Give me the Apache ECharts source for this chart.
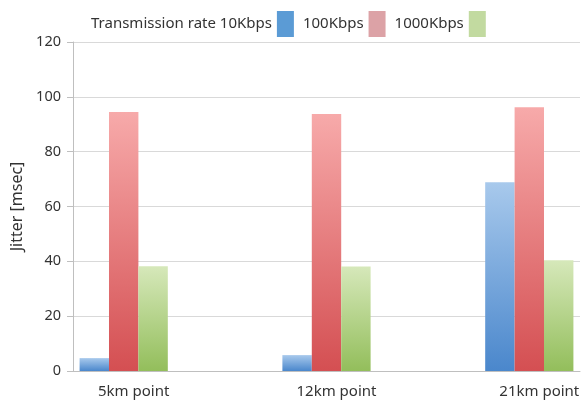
<!DOCTYPE html>
<html><head><meta charset="utf-8">
<script src="https://cdn.jsdelivr.net/npm/echarts@6/dist/echarts.min.js"></script>
<style>html,body{margin:0;padding:0;background:#fff}#c{width:587px;height:404px}</style>
</head><body><div id="c"></div>
<script>
const categories = ['5km point', '', '12km point', '', '21km point'];
const seriesNames = ['Transmission rate 10Kbps', '100Kbps', '1000Kbps'];
const rate10 = [4.7, '-', 5.8, '-', 68.8];
const rate100 = [94.5, '-', 93.7, '-', 96.2];
const rate1000 = [38.2, '-', 38.1, '-', 40.4];
const yTicks = [0, 20, 40, 60, 80, 100, 120];

const grad = (top, bottom) => new echarts.graphic.LinearGradient(0, 0, 0, 1, [
  {offset: 0, color: top}, {offset: 1, color: bottom}
]);
const styles = [
  {bar: grad('#a8c9ec', '#4a87cc'), legend: '#5b9bd5'},
  {bar: grad('#f7aaaa', '#d44f52'), legend: '#dca2a6'},
  {bar: grad('#d6e8ba', '#93be5b'), legend: '#c2daa0'}
];
const values = [rate10, rate100, rate1000];
const font = 'Noto Sans';
const chart = echarts.init(document.getElementById('c'));
chart.setOption({
  animation: false,
  backgroundColor: '#fff',
  legend: {
    top: 6, left: 86, align: 'right', itemGap: 9,
    itemWidth: 17, itemHeight: 26,
    textStyle: {fontFamily: font, fontSize: 15, color: '#333'},
    data: seriesNames.map((n, i) => ({name: n, icon: 'rect', itemStyle: {color: styles[i].legend}}))
  },
  grid: {left: 73, right: 7, top: 42, bottom: 33},
  xAxis: {
    type: 'category', data: categories,
    axisLine: {lineStyle: {color: '#bfbfbf'}},
    axisTick: {length: 5, lineStyle: {color: '#bfbfbf'}},
    axisLabel: {fontFamily: font, fontSize: 15, color: '#333', margin: 13, padding: [0, 0, 0, 20], interval: 0}
  },
  yAxis: {
    type: 'value', min: 0, max: 120, interval: 20,
    name: 'Jitter [msec]', nameLocation: 'middle', nameGap: 44,
    nameTextStyle: {fontFamily: font, fontSize: 16, color: '#333'},
    axisLine: {show: true, lineStyle: {color: '#bfbfbf'}},
    axisTick: {show: true, length: 6, lineStyle: {color: '#bfbfbf'}},
    axisLabel: {fontFamily: font, fontSize: 14.5, color: '#333', margin: 12,
      formatter: v => yTicks.includes(v) ? String(v) : ''},
    splitLine: {lineStyle: {color: '#d9d9d9'}}
  },
  series: seriesNames.map((n, i) => ({
    name: n, type: 'bar', data: values[i],
    barGap: '0%', barCategoryGap: '13%',
    itemStyle: {color: styles[i].bar}
  }))
});
</script></body></html>
